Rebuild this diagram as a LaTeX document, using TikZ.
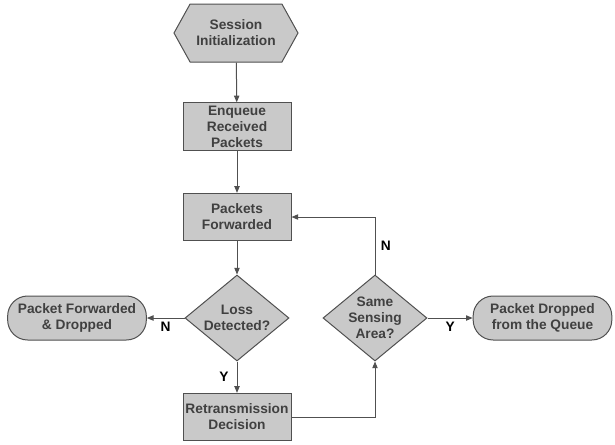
\documentclass[tikz,border=0pt]{standalone}
\usepackage{fontspec}
\setmainfont{Liberation Sans}
\usepackage{tikz}
\usetikzlibrary{shapes.geometric,shapes.symbols,arrows.meta}

\definecolor{boxfill}{RGB}{201,201,201}
\definecolor{boxline}{RGB}{80,80,80}
\definecolor{boxtext}{RGB}{64,64,64}

\tikzset{
  every node/.style={font=\fontsize{10.3}{12}\selectfont\bfseries, text=boxtext},
  startbox/.style={signal, signal to=west and east, signal pointer angle=122, draw=boxline, fill=boxfill, line width=0.75pt, minimum width=93pt, minimum height=43.5pt, inner sep=1pt, align=center},
  procbox/.style={rectangle, draw=boxline, fill=boxfill, line width=0.75pt, minimum width=81pt, minimum height=35.5pt, inner sep=1pt, align=center},
  decisionbox/.style={diamond, draw=boxline, fill=boxfill, line width=0.75pt, minimum width=78pt, minimum height=64.5pt, inner sep=0pt},
  endbox/.style={rectangle, rounded corners=15pt, draw=boxline, fill=boxfill, line width=0.75pt, minimum width=104pt, minimum height=33pt, inner sep=1pt, align=center},
  decisiontext/.style={align=center, inner sep=0pt},
  flow/.style={draw=boxline, line width=0.75pt, -{Triangle[length=5pt,width=4pt]}},
  branch/.style={text=black, inner sep=2pt}
}

\begin{document}
\begin{tikzpicture}[x=0.75pt,y=0.75pt,yscale=-1,xscale=1]
\useasboundingbox (0,0) rectangle (615,444);

% Shapes
\node[startbox] (init) at (236,33) {Session\\Initialization};
\node[procbox] (enqueue) at (237,126.5) {Enqueue\\Received\\Packets};
\node[procbox] (forward) at (237,217) {Packets\\Forwarded};
\node[decisionbox] (loss) at (237,318) {};
\node[decisiontext] at (loss) {Loss\\Detected?};
\node[procbox] (retrans) at (237,417) {Retransmission\\Decision};
\node[decisionbox] (same) at (375,318) {};
\node[decisiontext] at (same) {Same\\Sensing\\Area?};
\node[endbox] (fwddrop) at (77,318) {Packet Forwarded\\\& Dropped};
\node[endbox] (qdrop) at (542.5,318) {Packet Dropped\\from the Queue};

% Connectors
\draw[flow] (init) -- (enqueue);
\draw[flow] (enqueue) -- (forward);
\draw[flow] (forward) -- (loss);
\draw[flow] (loss.west) -- node[branch, below=1pt] {N} (fwddrop.east);
\draw[flow] (loss.south) -- node[branch, left=4pt] {Y} (retrans.north);
\draw[flow] (retrans.east) -| (same.south);
\draw[flow] (same.north) |- node[branch, pos=0.25, right=2pt] {N} (forward.east);
\draw[flow] (same.east) -- node[branch, below=1pt] {Y} (qdrop.west);

\end{tikzpicture}
\end{document}
